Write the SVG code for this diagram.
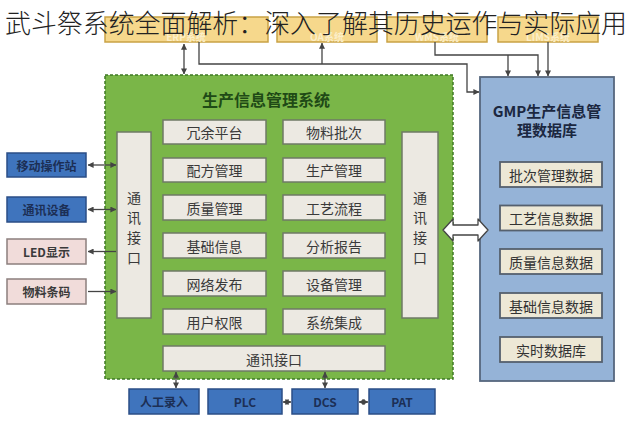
<svg xmlns="http://www.w3.org/2000/svg" width="633" height="444" viewBox="0 0 633 444">
<defs>
<style>
text{font-family:"Noto Sans CJK SC","Liberation Sans",sans-serif;text-anchor:middle;dominant-baseline:central}
.top rect{fill:#f6d88c;stroke:#c9a245;stroke-width:1.5}
.top text{fill:#fbeec8;font-size:10px;font-weight:bold}
.cell rect{fill:#ece9e2;stroke:#6f7a66;stroke-width:1.5}
.cell text{fill:#3a3a3a;font-size:14px}
.blue rect{fill:#3f74bd;stroke:#2b4e86;stroke-width:1.5}
.blue text{fill:#1c2f55;font-size:12px;font-weight:bold}
.pink rect{fill:#f1dcda;stroke:#8c7f7d;stroke-width:1.5}
.pink text{fill:#3a3a3a;font-size:12px;font-weight:bold}
.db rect{fill:#ede8d6;stroke:#55606e;stroke-width:1.8}
.db text{fill:#333;font-size:14px}
.ln{fill:none;stroke:#444;stroke-width:1.3}
</style>
<marker id="ah" viewBox="0 0 8 8" refX="7.5" refY="4" markerWidth="6" markerHeight="6" orient="auto-start-reverse" markerUnits="userSpaceOnUse">
<path d="M0,0 L8,4 L0,8 Z" fill="#444"/>
</marker>
</defs>
<rect width="633" height="444" fill="#ffffff"/>

<!-- top systems -->
<g id="sys1" class="top"><rect x="105" y="17" width="163" height="25"/><text x="186" y="36.5">ERP系统</text></g>
<g id="sys2" class="top"><rect x="277" y="17" width="100" height="25"/><text x="327" y="36.5">OA系统</text></g>
<g id="sys3" class="top"><rect x="387" y="17" width="100" height="25"/><text x="437" y="36.5">WMS系统</text></g>
<g id="sys4" class="top"><rect x="498" y="17" width="100" height="25"/><text x="548" y="36.5">LIMS系统</text></g>

<!-- green system -->
<g id="pims">
<rect x="105" y="75" width="348" height="304" fill="#7ab648" stroke="#3f7a25" stroke-width="1.5" stroke-dasharray="3 2"/>
<text x="266" y="99" font-size="16" font-weight="bold" fill="#1f4a16">生产信息管理系统</text>
</g>
<g id="c1" class="cell"><rect x="163" y="120" width="103" height="24"/><text x="214.5" y="132">冗余平台</text></g>
<g id="c2" class="cell"><rect x="283" y="120" width="102" height="24"/><text x="334" y="132">物料批次</text></g>
<g id="c3" class="cell"><rect x="163" y="158" width="103" height="24"/><text x="214.5" y="170">配方管理</text></g>
<g id="c4" class="cell"><rect x="283" y="158" width="102" height="24"/><text x="334" y="170">生产管理</text></g>
<g id="c5" class="cell"><rect x="163" y="195" width="103" height="25"/><text x="214.5" y="207.5">质量管理</text></g>
<g id="c6" class="cell"><rect x="283" y="195" width="102" height="25"/><text x="334" y="207.5">工艺流程</text></g>
<g id="c7" class="cell"><rect x="163" y="233" width="103" height="25"/><text x="214.5" y="245.5">基础信息</text></g>
<g id="c8" class="cell"><rect x="283" y="233" width="102" height="25"/><text x="334" y="245.5">分析报告</text></g>
<g id="c9" class="cell"><rect x="163" y="271" width="103" height="25"/><text x="214.5" y="283.5">网络发布</text></g>
<g id="c10" class="cell"><rect x="283" y="271" width="102" height="25"/><text x="334" y="283.5">设备管理</text></g>
<g id="c11" class="cell"><rect x="163" y="309" width="103" height="25"/><text x="214.5" y="321.5">用户权限</text></g>
<g id="c12" class="cell"><rect x="283" y="309" width="102" height="25"/><text x="334" y="321.5">系统集成</text></g>
<g id="ifBottom" class="cell"><rect x="163" y="346" width="222" height="25"/><text x="274" y="358.5">通讯接口</text></g>
<g id="ifLeft" class="cell"><rect x="117" y="132" width="34" height="186"/>
<text x="134" y="197">通</text><text x="134" y="217">讯</text><text x="134" y="237">接</text><text x="134" y="257">口</text></g>
<g id="ifRight" class="cell"><rect x="402" y="132" width="36" height="186"/>
<text x="420" y="197">通</text><text x="420" y="217">讯</text><text x="420" y="237">接</text><text x="420" y="257">口</text></g>

<!-- left devices -->
<g id="d1" class="blue"><rect x="7" y="153" width="79" height="24"/><text x="46.5" y="165">移动操作站</text></g>
<g id="d2" class="blue"><rect x="7" y="197" width="79" height="25"/><text x="46.5" y="209.5">通讯设备</text></g>
<g id="d3" class="pink"><rect x="7" y="239" width="79" height="25"/><text x="46.5" y="251.5">LED显示</text></g>
<g id="d4" class="pink"><rect x="7" y="279" width="79" height="25"/><text x="46.5" y="291.5">物料条码</text></g>

<!-- bottom devices -->
<g id="b1" class="blue"><rect x="129" y="389" width="70" height="25"/><text x="164" y="401.5">人工录入</text></g>
<g id="b2" class="blue"><rect x="208" y="389" width="74" height="25"/><text x="245" y="401.5" font-size="13">PLC</text></g>
<g id="b3" class="blue"><rect x="292" y="389" width="66" height="25"/><text x="325" y="401.5" font-size="13">DCS</text></g>
<g id="b4" class="blue"><rect x="369" y="389" width="66" height="25"/><text x="402" y="401.5" font-size="13">PAT</text></g>

<!-- GMP database -->
<g id="gmp">
<rect x="480" y="77" width="134" height="304" fill="#95b3d7" stroke="#56677e" stroke-width="1.8"/>
<text x="547" y="110" font-size="15" font-weight="bold" fill="#1b2740">GMP生产信息管</text>
<text x="547" y="129" font-size="15" font-weight="bold" fill="#1b2740">理数据库</text>
</g>
<g id="g1" class="db"><rect x="500" y="162" width="102" height="25"/><text x="551" y="174.5">批次管理数据</text></g>
<g id="g2" class="db"><rect x="500" y="205.5" width="102" height="25"/><text x="551" y="218">工艺信息数据</text></g>
<g id="g3" class="db"><rect x="500" y="249" width="102" height="25"/><text x="551" y="261.5">质量信息数据</text></g>
<g id="g4" class="db"><rect x="500" y="293" width="102" height="25"/><text x="551" y="305.5">基础信息数据</text></g>
<g id="g5" class="db"><rect x="500" y="337" width="102" height="25"/><text x="551" y="349.5">实时数据库</text></g>

<!-- connectors -->
<g id="connectors">
<path class="ln" d="M184,44 V74" marker-start="url(#ah)" marker-end="url(#ah)"/>
<path class="ln" d="M199,42 V64 H467 V92 H479" marker-end="url(#ah)"/>
<path class="ln" d="M322,64 V43" marker-end="url(#ah)"/>
<path class="ln" d="M435,42 V55 H538 V76" marker-end="url(#ah)"/>
<path class="ln" d="M508,55 V76" marker-end="url(#ah)"/>
<path class="ln" d="M548,42 V76" marker-end="url(#ah)"/>
<path class="ln" d="M88,165 H116" marker-start="url(#ah)" marker-end="url(#ah)"/>
<path class="ln" d="M88,209.5 H116" marker-start="url(#ah)" marker-end="url(#ah)"/>
<path class="ln" d="M116,251.5 H88" marker-end="url(#ah)"/>
<path class="ln" d="M88,291.5 H116" marker-end="url(#ah)"/>
<path class="ln" d="M176,372 V388" marker-start="url(#ah)" marker-end="url(#ah)"/>
<path class="ln" d="M325,372 V388" marker-start="url(#ah)" marker-end="url(#ah)"/>
<path class="ln" d="M283,402 H291" marker-start="url(#ah)" marker-end="url(#ah)"/>
<path class="ln" d="M359,402 H368" marker-start="url(#ah)" marker-end="url(#ah)"/>
<path d="M443,230 L453,219 V225 H478 V219 L488,230 L478,241 V235 H453 V241 Z" fill="#ffffff" stroke="#444" stroke-width="1.3" stroke-linejoin="round"/>
</g>

<!-- title -->
<text x="316" y="21" font-size="26" fill="#222" textLength="622" lengthAdjust="spacingAndGlyphs" style="font-family:'Noto Sans CJK SC',sans-serif;font-weight:300">武斗祭系统全面解析：深入了解其历史运作与实际应用</text>
</svg>
